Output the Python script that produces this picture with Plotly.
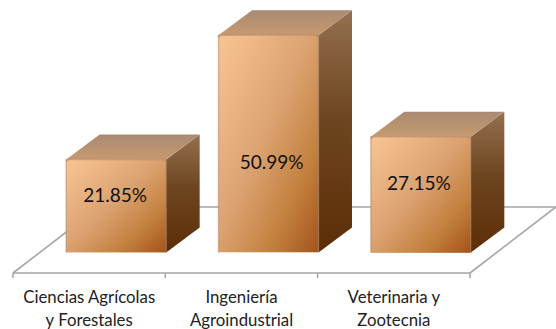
import numpy as np
import plotly.graph_objects as go

categories = ["Ciencias Agrícolas<br>y Forestales", "Ingeniería<br>Agroindustrial", "Veterinaria y<br>Zootecnia"]
values = [21.85, 50.99, 27.15]
label_heights = [12.9, 20.7, 15.7]
label_shift = [-0.007, 0.02, -0.013]

PX_X = 152.33
PX_Y = 4.26
W, H = 556, 329
LEFT_PX, BASE_PX, PLOT_BOTTOM_PX = 13, 252.5, 280
BAR_W = 100 / PX_X
BAR_OFFSET = 27 / PX_X
DX, DY = 33.5 / PX_X, 25 / PX_Y
FLOOR_FRONT, FLOOR_BACK = (BASE_PX - 273) / PX_Y, (BASE_PX - 207) / PX_Y
FLOOR_DX = 86 / PX_X
CX, CY = 3 / PX_X, 3 / PX_Y
GREY = "#A6A6A6"
FONT = "Lato, sans-serif"

front_scale = [[0, "#F9C493"], [0.45, "#DDA473"], [0.75, "#C3813F"], [1, "#A4521A"]]
side_scale = [[0, "#5C2E06"], [0.55, "#6E4520"], [1, "#94704E"]]
top_scale = [[0, "#C69A70"], [1, "#A98A72"]]

fig = go.Figure()
for i, v in enumerate(values):
    x0 = i + 0.5 + BAR_OFFSET - BAR_W / 2
    x1 = x0 + BAR_W
    # side face
    fig.add_trace(go.Scatter(
        x=[x1, x1 + DX, x1 + DX, x1, x1], y=[0, DY, v + DY, v, 0],
        mode="lines", line=dict(width=0), fill="toself",
        fillgradient=dict(type="vertical", colorscale=side_scale),
        hoverinfo="skip", showlegend=False))
    # top face
    fig.add_trace(go.Scatter(
        x=[x0, x1, x1 + DX, x0 + DX, x0], y=[v, v, v + DY, v + DY, v],
        mode="lines", line=dict(width=0), fill="toself",
        fillgradient=dict(type="vertical", colorscale=top_scale),
        hoverinfo="skip", showlegend=False))
    # front face
    n = 24
    u = (np.arange(n) + 0.5) / n
    uu, vv = np.meshgrid(u, u)
    fig.add_trace(go.Heatmap(
        x=np.linspace(x0, x1, n + 1), y=np.linspace(0, v, n + 1),
        z=(uu + (1 - vv)) / 2, zmin=0, zmax=1,
        colorscale=front_scale, showscale=False, zsmooth="best", hoverinfo="skip"))
    # soft bevel along the front edges
    fig.add_trace(go.Scatter(
        x=[x0, x0, x1, x1], y=[0, v, v, 0], mode="lines",
        line=dict(color="rgba(170,125,90,0.45)", width=1.5),
        hoverinfo="skip", showlegend=False))
    # softened upper corners of the front face
    for xs in ([x0, x0 + CX, x0, x0], [x1, x1 - CX, x1, x1]):
        fig.add_trace(go.Scatter(
            x=xs, y=[v, v, v - CY, v], mode="lines", line=dict(width=0), fill="toself",
            fillcolor="#BE9068", hoverinfo="skip", showlegend=False))

# data labels
fig.add_trace(go.Scatter(
    x=[i + 0.5 + BAR_OFFSET + s for i, s in enumerate(label_shift)],
    y=label_heights, mode="text",
    text=[f"{v:.2f}%" for v in values],
    textfont=dict(family=FONT, size=19, color="#111111"),
    hoverinfo="skip", showlegend=False))

# floor and tick marks, behind the bars
def seg(x0, y0, x1, y1):
    return dict(type="line", xref="x", yref="y", x0=x0, y0=y0, x1=x1, y1=y1,
                layer="below", line=dict(color=GREY, width=1.6))

shapes = [
    seg(0, FLOOR_FRONT, 3, FLOOR_FRONT),
    seg(0, FLOOR_FRONT, FLOOR_DX, FLOOR_BACK),
    seg(3, FLOOR_FRONT, 3 + FLOOR_DX, FLOOR_BACK),
    seg(FLOOR_DX, FLOOR_BACK, 3 + FLOOR_DX, FLOOR_BACK),
]
for k in range(4):
    shapes.append(seg(k, FLOOR_FRONT, k, FLOOR_FRONT - 5 / PX_Y))

fig.update_layout(
    width=W, height=H, autosize=False,
    margin=dict(l=0, r=0, t=0, b=H - PLOT_BOTTOM_PX, pad=0, autoexpand=False),
    paper_bgcolor="white", plot_bgcolor="rgba(0,0,0,0)",
    showlegend=False, shapes=shapes,
    xaxis=dict(range=[-LEFT_PX / PX_X, (W - LEFT_PX) / PX_X], showgrid=False, zeroline=False,
               automargin=False, showline=False, ticks="outside", ticklen=2, tickcolor="rgba(0,0,0,0)",
               tickmode="array", tickvals=[0.5, 1.5, 2.5],
               ticktext=['<br>'.join(f'<span style="font-size:16.8px">{p}</span>' for p in c.split("<br>")) for c in categories],
               tickfont=dict(family=FONT, size=17, color="#222222"), tickangle=0),
    yaxis=dict(range=[(BASE_PX - PLOT_BOTTOM_PX) / PX_Y, BASE_PX / PX_Y], visible=False),
)
fig.write_html("out.html", config=dict(displayModeBar=False),
               post_script="document.body.style.margin='0';document.body.style.overflow='hidden';")
